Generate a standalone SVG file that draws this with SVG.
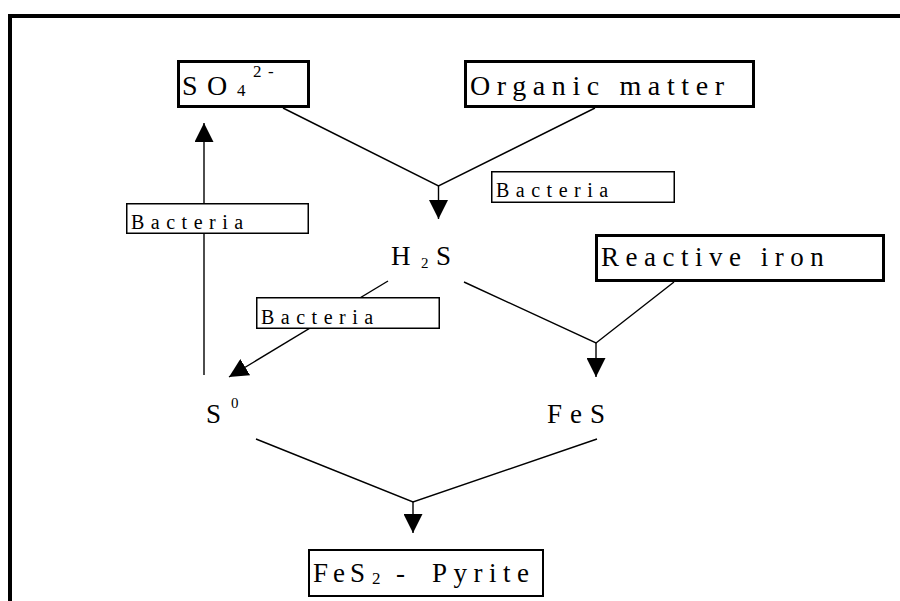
<svg xmlns="http://www.w3.org/2000/svg" width="900" height="601" viewBox="0 0 900 601">
<style>
text{font-family:"Liberation Serif","Times New Roman",serif;fill:#000}
.big{font-size:28px}
.mid{font-size:27px}
.bac{font-size:20px;letter-spacing:6.5px}
.sub{font-size:17px}
.box{fill:#fff;stroke:#000;stroke-width:3}
.box2{fill:#fff;stroke:#000;stroke-width:2}
.lbl{fill:#fff;stroke:#000;stroke-width:1.5}
.ln{fill:none;stroke:#000;stroke-width:1.4}
</style>
<defs>
<marker id="ah" viewBox="0 0 19 19" refX="19" refY="9.5" markerWidth="19" markerHeight="19" markerUnits="userSpaceOnUse" orient="auto">
<path d="M0,0 L19,9.5 L0,19 z" fill="#000"/>
</marker>
</defs>
<path d="M10,601 L10,16 L900,16" fill="none" stroke="#000" stroke-width="4"/>
<g id="connectors">
<path class="ln" d="M283,108 L438.5,186 L595,108"/>
<line class="ln" x1="438.5" y1="186" x2="438.5" y2="219" marker-end="url(#ah)"/>
<line class="ln" x1="204" y1="375" x2="204" y2="123" marker-end="url(#ah)"/>
<line class="ln" x1="388" y1="281" x2="229" y2="377" marker-end="url(#ah)"/>
<path class="ln" d="M464,282 L596,343 L674,282"/>
<line class="ln" x1="596" y1="343" x2="596" y2="377" marker-end="url(#ah)"/>
<path class="ln" d="M256,439 L413,502 L597,439"/>
<line class="ln" x1="413" y1="502" x2="413" y2="533" marker-end="url(#ah)"/>
</g>
<g id="so4">
<rect class="box" x="178.5" y="61.5" width="130" height="45"/>
<text class="big" x="182" y="95">S</text>
<text class="big" x="207" y="95">O</text>
<text class="sub" x="237" y="96">4</text>
<text class="sub" x="253" y="77">2</text>
<text class="sub" x="268" y="77">-</text>
</g>
<g id="organic">
<rect class="box" x="465.5" y="61.5" width="288" height="45"/>
<text class="big" x="470" y="95" style="letter-spacing:6.6px">Organic matter</text>
</g>
<g id="bacteria1">
<rect class="lbl" x="491.75" y="171.75" width="182.5" height="30.5"/>
<text class="bac" x="496" y="197">Bacteria</text>
</g>
<g id="bacteria2">
<rect class="lbl" x="126.75" y="203.75" width="181.5" height="29.5"/>
<text class="bac" x="131" y="229">Bacteria</text>
</g>
<g id="h2s">
<text class="mid" x="391" y="265">H</text>
<text style="font-size:15px" x="421" y="268">2</text>
<text class="mid" x="436" y="265">S</text>
</g>
<g id="reactive-iron">
<rect class="box" x="596.5" y="235.5" width="287" height="45"/>
<text class="mid" x="601" y="266" style="letter-spacing:6.5px">Reactive iron</text>
</g>
<g id="bacteria3">
<rect class="lbl" x="256.75" y="297.75" width="182.5" height="30.5"/>
<text class="bac" x="261" y="324">Bacteria</text>
</g>
<g id="s0">
<text class="mid" x="206" y="423">S</text>
<text style="font-size:15px" x="231" y="408">0</text>
</g>
<g id="fes">
<text class="mid" x="547" y="423" style="letter-spacing:8px">FeS</text>
</g>
<g id="pyrite">
<rect class="box2" x="309" y="550" width="234" height="46"/>
<text class="mid" x="313" y="582" style="letter-spacing:5px">FeS</text>
<text class="sub" x="372" y="584">2</text>
<text class="mid" x="396" y="582">-</text>
<text class="mid" x="432" y="582" style="letter-spacing:6.5px">Pyrite</text>
</g>
</svg>
